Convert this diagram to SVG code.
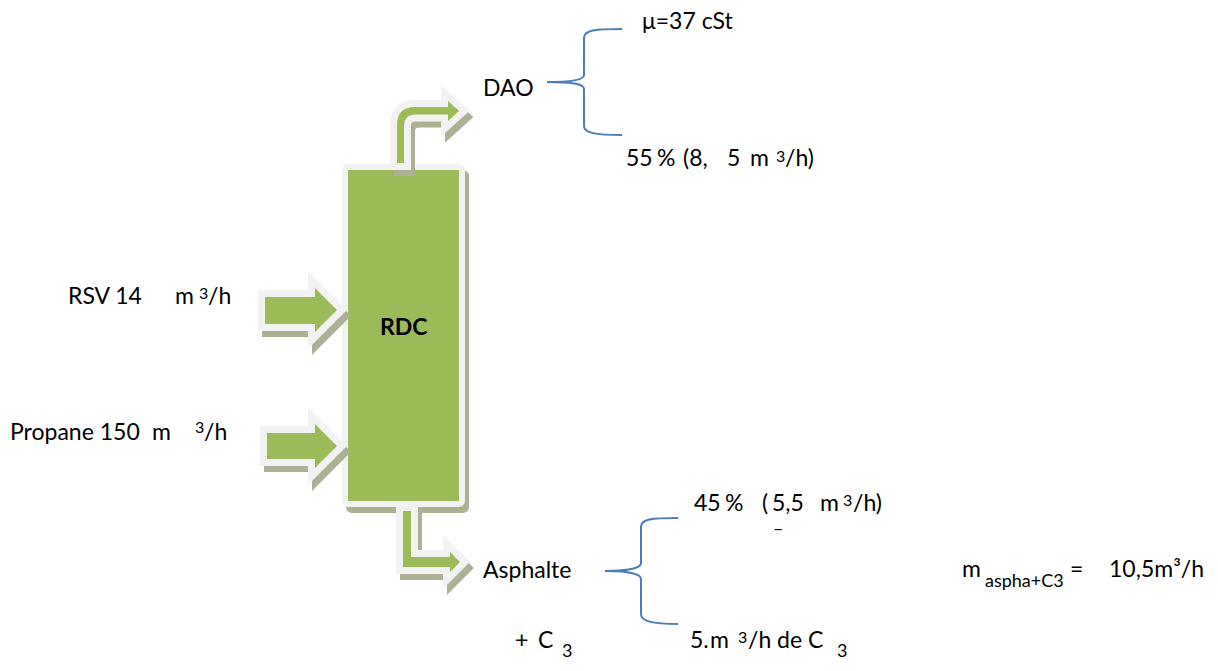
<svg xmlns="http://www.w3.org/2000/svg" width="1218" height="671" viewBox="0 0 1218 671">
<style>
.t{font-family:Lato,"Liberation Sans",sans-serif;font-size:23px;fill:#000}
.b{font-weight:bold}
.sm{font-size:16px}
.sub{font-size:18px}
.sh{fill:#adb092;stroke:#adb092;stroke-width:14;stroke-linejoin:miter}
.ar{fill:#9bbb59;stroke:#f2f2f2;stroke-width:14;stroke-linejoin:miter;paint-order:stroke}
.rsh{fill:#adb092;stroke:#adb092;stroke-width:12;stroke-linejoin:round}
.rc{fill:#9bbb59;stroke:#f2f2f2;stroke-width:12;stroke-linejoin:round;paint-order:stroke}
.br{fill:none;stroke:#4a7ebb;stroke-width:2}
</style>
<rect width="1218" height="671" fill="#fff"/>
<g id="rdc">
<rect class="rsh" x="352" y="176" width="111" height="331"/>
<rect class="rc" x="348" y="170" width="111" height="331"/>
<text class="t b" x="380" y="335">RDC</text>
</g>
<g id="connectors">
<g id="arrow-rsv">
<path class="sh" transform="translate(4,6)" d="M265,297 L315,297 L315,288 L337,310 L315,332 L315,324 L265,324 Z"/>
<path class="ar" d="M265,297 L315,297 L315,288 L337,310 L315,332 L315,324 L265,324 Z"/>
</g>
<g id="arrow-propane">
<path class="sh" transform="translate(4,6)" d="M267,433 L315,433 L315,424 L337,446 L315,468 L315,459 L267,459 Z"/>
<path class="ar" d="M267,433 L315,433 L315,424 L337,446 L315,468 L315,459 L267,459 Z"/>
</g>
<g id="arrow-dao">
<path class="sh" transform="translate(4,6)" d="M397,163 L397,125 Q397,107 415,107 L448,107 L448,101 L459,111 L448,121 L448,114.5 L416,114.5 Q404,114.5 404,126 L404,163 Z"/>
<path class="ar" d="M397,163 L397,125 Q397,107 415,107 L448,107 L448,101 L459,111 L448,121 L448,114.5 L416,114.5 Q404,114.5 404,126 L404,163 Z"/>
</g>
<g id="arrow-asphalte">
<path class="sh" transform="translate(4,6)" d="M403,511 L403,567 L450,567 L450,572 L460,562 L450,552 L450,557 L411,557 L411,511 Z"/>
<path class="ar" d="M403,511 L403,567 L450,567 L450,572 L460,562 L450,552 L450,557 L411,557 L411,511 Z"/>
</g>
<path id="brace-dao" class="br" d="M622,29 C595,29 584,30 584,38 L584,75 C584,79 575,82 547,82 C575,82 584,84 584,89 L584,126 C584,133 595,135 622,135"/>
<path id="brace-asphalte" class="br" d="M678,518 C651,518 641,519 641,527 L641,563 C641,567 633,571 605,571 C633,571 641,575 641,579 L641,614 C641,621 651,624 678,624"/>
</g>
<g id="label-rsv">
<text class="t" x="68" y="304">RSV 14</text>
<text class="t" x="175" y="304">m</text>
<text class="t sm" x="199" y="299">3</text>
<text class="t" x="208" y="304">/h</text>
</g>
<g id="label-propane">
<text class="t" x="10" y="440">Propane 150</text>
<text class="t" x="152" y="440">m</text>
<text class="t sm" x="195" y="433">3</text>
<text class="t" x="204" y="440">/h</text>
</g>
<g id="dao">
<text class="t" x="483" y="96">DAO</text>
<text class="t" x="642" y="29">μ=37 cSt</text>
<text class="t" x="626" y="166">55</text>
<text class="t" x="657" y="166">%</text>
<text class="t" x="683" y="166">(8,</text>
<text class="t" x="727" y="166">5</text>
<text class="t" x="750" y="166">m</text>
<text class="t sm" x="776" y="162">3</text>
<text class="t" x="785" y="166">/h)</text>
</g>
<g id="asphalte">
<text class="t" x="483" y="578">Asphalte</text>
<text class="t" x="694" y="511">45</text>
<text class="t" x="725" y="511">%</text>
<text class="t" x="762" y="511">(</text>
<text class="t" x="772" y="511">5,5</text>
<text class="t" x="820" y="511">m</text>
<text class="t sm" x="843" y="506">3</text>
<text class="t" x="853" y="511">/h)</text>
<text class="t sub" x="773" y="535">–</text>
<text class="t" x="690" y="648">5.</text>
<text class="t" x="710" y="648">m</text>
<text class="t sm" x="738" y="643">3</text>
<text class="t" x="748" y="648">/h de C</text>
<text class="t sub" x="837" y="657">3</text>
<text class="t" x="515" y="648">+</text>
<text class="t" x="538" y="648">C</text>
<text class="t sub" x="562" y="657">3</text>
</g>
<g id="total">
<text class="t" x="962" y="577">m</text>
<text class="t sub" x="985" y="587">aspha+C3</text>
<text class="t" x="1070" y="577">=</text>
<text class="t" x="1109" y="577">10,5m³/h</text>
</g>
</svg>
